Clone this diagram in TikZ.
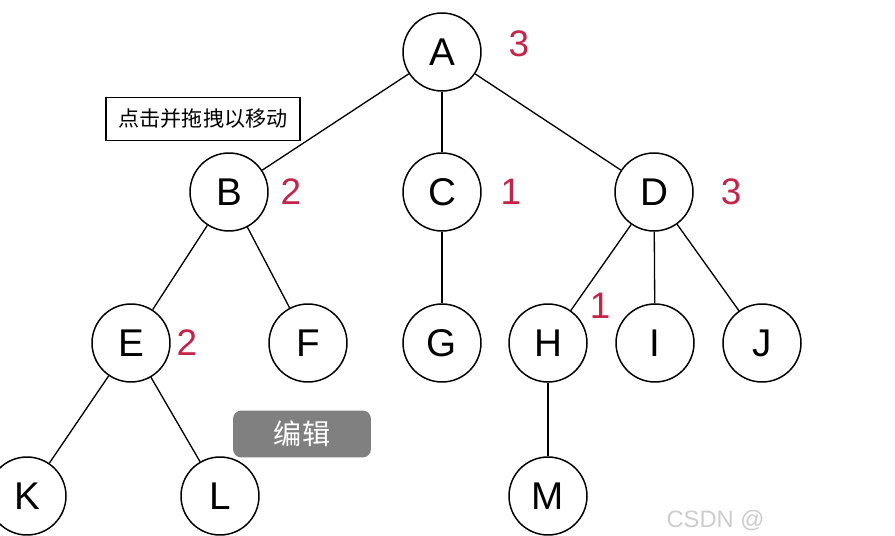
\documentclass[tikz,border=0pt]{standalone}
\usepackage{fontspec}
\setmainfont{Liberation Sans}
\newfontfamily\cjk{Noto Sans CJK SC}
\usetikzlibrary{positioning}
\definecolor{degred}{RGB}{196, 36, 72}
\definecolor{editgray}{RGB}{128, 128, 128}
\definecolor{markgray}{RGB}{205, 205, 205}

\begin{document}
\begin{tikzpicture}[
			x=0.02cm, y=-0.02cm,
			line width=0.85pt,
			vertex/.style={draw, circle, minimum size=1.56cm, inner sep=0pt,
				font=\fontsize{22}{24}\selectfont},
			deg/.style={text=degred, font=\fontsize{21}{24}\selectfont},
			edge/.style={draw, line width=0.75pt}
		]

		\clip (0,0) rectangle (895,536);
		\fill[white] (0,0) rectangle (895,536);

		%% Tree vertices (pixel grid of the picture)
		\node[vertex] (A) at (442, 52) {A};
		\node[vertex] (B) at (229,192) {B};
		\node[vertex] (C) at (442,192) {C};
		\node[vertex] (D) at (654,192) {D};
		\node[vertex] (E) at (131,343) {E};
		\node[vertex] (F) at (308,343) {F};
		\node[vertex] (G) at (442,343) {G};
		\node[vertex] (H) at (548,343) {H};
		\node[vertex] (I) at (655,343) {I};
		\node[vertex] (J) at (762,343) {J};
		\node[vertex] (K) at ( 27,496) {K};
		\node[vertex] (L) at (220,496) {L};
		\node[vertex] (M) at (548,496) {M};

		%% Edges
		\draw[edge] (A) -- (B);
		\draw[edge] (A) -- (C);
		\draw[edge] (A) -- (D);
		\draw[edge] (B) -- (E);
		\draw[edge] (B) -- (F);
		\draw[edge] (C) -- (G);
		\draw[edge] (D) -- (H);
		\draw[edge] (D) -- (I);
		\draw[edge] (D) -- (J);
		\draw[edge] (E) -- (K);
		\draw[edge] (E) -- (L);
		\draw[edge] (H) -- (M);

		%% Degrees
		\node[deg] (dA) at (519, 44) {3};
		\node[deg] (dB) at (291,192) {2};
		\node[deg] (dC) at (511,192) {1};
		\node[deg] (dD) at (731,192) {3};
		\node[deg] (dE) at (187,343) {2};
		\node[deg] (dH) at (600,306) {1};

		%% Tooltip and edit button
		\node[draw, line width=0.6pt, minimum width=3.88cm, minimum height=0.86cm,
			inner sep=0pt, font=\cjk\fontsize{12}{14}\selectfont]
			(tip) at (203,119) {点击并拖拽以移动};
		\node[fill=editgray, rounded corners=0.17cm, minimum width=2.76cm,
			minimum height=0.94cm, inner sep=0pt, text=white,
			font=\cjk\fontsize{16}{18}\selectfont]
			(edit) at (302,434) {编辑};

		%% Watermark
		\node[anchor=west, text=markgray, font=\fontsize{13.5}{15}\selectfont]
			(mark) at (660,521) {CSDN @};

		\end{tikzpicture}
\end{document}
